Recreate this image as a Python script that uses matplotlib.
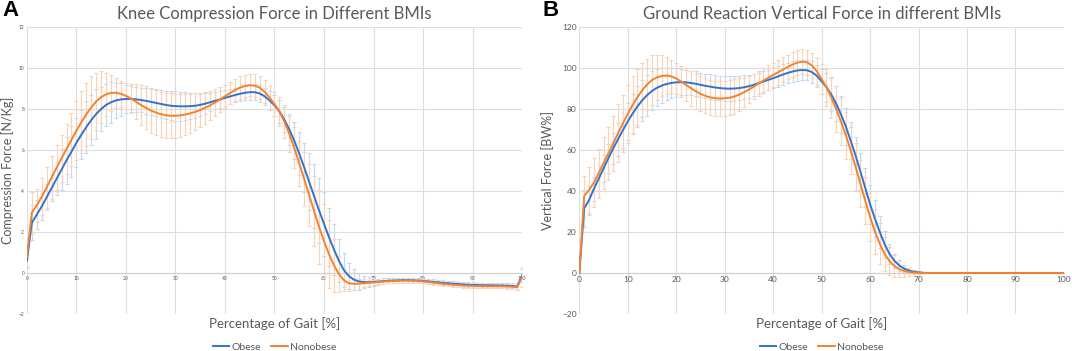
import numpy as np
import matplotlib
matplotlib.use('Agg')
import matplotlib.pyplot as plt

# gait cycle, one sample per percent
gait = list(range(0, 101))

# panel A: knee compression force [N/Kg]
knee_obese = [0.6, 2.45, 2.85, 3.25, 3.7, 4.15, 4.6, 5.05, 5.5, 5.92,
              6.35, 6.75, 7.12, 7.46, 7.76, 8.0, 8.2, 8.33, 8.42, 8.47,
              8.49, 8.49, 8.47, 8.44, 8.4, 8.35, 8.3, 8.25, 8.2, 8.16,
              8.14, 8.13, 8.13, 8.14, 8.16, 8.2, 8.26, 8.33, 8.4, 8.47,
              8.54, 8.61, 8.68, 8.74, 8.79, 8.82, 8.82, 8.76, 8.62, 8.42,
              8.18, 7.88, 7.48, 7.0, 6.45, 5.82, 5.15, 4.45, 3.75, 3.05,
              2.4, 1.75, 1.15, 0.6, 0.15, -0.15, -0.32, -0.41, -0.44, -0.45,
              -0.44, -0.42, -0.4, -0.38, -0.37, -0.36, -0.35, -0.35, -0.36, -0.37,
              -0.39, -0.41, -0.43, -0.46, -0.48, -0.5, -0.52, -0.54, -0.56, -0.57,
              -0.58, -0.59, -0.6, -0.6, -0.6, -0.61, -0.61, -0.62, -0.63, -0.66,
              -0.12]
knee_obese_sd = [0.35, 0.85, 0.7, 0.65, 0.65, 0.65, 0.8, 1.0, 1.15, 1.25,
                 1.2, 1.2, 1.25, 1.23, 1.2, 1.07, 1.03, 1.0, 0.85, 0.8,
                 0.67, 0.62, 0.6, 0.6, 0.62, 0.64, 0.66, 0.68, 0.7, 0.72,
                 0.72, 0.7, 0.68, 0.65, 0.6, 0.55, 0.5, 0.45, 0.42, 0.4,
                 0.38, 0.36, 0.35, 0.35, 0.35, 0.36, 0.38, 0.4, 0.42, 0.45,
                 0.5, 0.55, 0.6, 0.75, 0.9, 1.05, 1.2, 1.4, 1.55, 1.6,
                 1.55, 1.4, 1.25, 1.05, 0.85, 0.65, 0.5, 0.4, 0.3, 0.25,
                 0.2, 0.15, 0.14, 0.13, 0.12, 0.12, 0.12, 0.12, 0.12, 0.12,
                 0.12, 0.12, 0.12, 0.12, 0.12, 0.12, 0.12, 0.12, 0.12, 0.12,
                 0.12, 0.12, 0.12, 0.12, 0.12, 0.12, 0.12, 0.12, 0.12, 0.15,
                 0.3]
knee_nonobese = [0.8, 2.95, 3.3, 3.72, 4.18, 4.66, 5.14, 5.6, 6.05, 6.5,
                 6.94, 7.36, 7.74, 8.08, 8.37, 8.58, 8.72, 8.79, 8.79, 8.74,
                 8.64, 8.51, 8.36, 8.2, 8.06, 7.93, 7.83, 7.75, 7.7, 7.67,
                 7.67, 7.69, 7.73, 7.79, 7.86, 7.95, 8.06, 8.18, 8.32, 8.47,
                 8.62, 8.77, 8.92, 9.04, 9.12, 9.16, 9.14, 9.04, 8.84, 8.56,
                 8.24, 7.87, 7.38, 6.78, 6.1, 5.35, 4.58, 3.8, 3.02, 2.25,
                 1.55, 0.92, 0.38, -0.05, -0.35, -0.5, -0.53, -0.52, -0.5, -0.48,
                 -0.46, -0.44, -0.42, -0.4, -0.39, -0.38, -0.37, -0.37, -0.38, -0.39,
                 -0.41, -0.44, -0.47, -0.5, -0.53, -0.55, -0.57, -0.59, -0.61, -0.62,
                 -0.63, -0.64, -0.65, -0.65, -0.65, -0.65, -0.65, -0.66, -0.67, -0.7,
                 -0.2]
knee_nonobese_sd = [0.5, 1.0, 0.8, 0.9, 1.0, 1.05, 1.1, 1.15, 1.2, 1.3,
                    1.44, 1.5, 1.53, 1.52, 1.39, 1.26, 1.04, 0.88, 0.72, 0.62,
                    0.62, 0.7, 0.85, 0.98, 1.05, 1.08, 1.1, 1.1, 1.1, 1.1,
                    1.08, 1.05, 1.0, 0.95, 0.9, 0.85, 0.78, 0.7, 0.64, 0.6,
                    0.56, 0.55, 0.55, 0.55, 0.55, 0.55, 0.55, 0.55, 0.55, 0.58,
                    0.6, 0.7, 0.8, 0.9, 1.0, 1.1, 1.3, 1.5, 1.7, 1.8,
                    1.8, 1.65, 1.3, 0.9, 0.55, 0.4, 0.3, 0.25, 0.2, 0.15,
                    0.12, 0.1, 0.1, 0.1, 0.1, 0.1, 0.1, 0.1, 0.1, 0.1,
                    0.1, 0.1, 0.1, 0.1, 0.1, 0.1, 0.1, 0.1, 0.1, 0.1,
                    0.1, 0.1, 0.1, 0.1, 0.1, 0.1, 0.1, 0.1, 0.1, 0.12,
                    0.5]

# panel B: vertical ground reaction force [BW%]
grf_obese = [0, 31.5, 35.5, 41, 46, 51, 56, 60.8, 65.3, 69.7,
             74, 77.8, 81.3, 84.3, 86.8, 88.8, 90.3, 91.4, 92.2, 92.7,
             93.0, 93.1, 93.0, 92.7, 92.3, 91.8, 91.3, 90.9, 90.5, 90.2,
             90.0, 89.9, 90.0, 90.2, 90.6, 91.1, 91.8, 92.6, 93.4, 94.2,
             95.0, 95.9, 96.8, 97.6, 98.3, 98.8, 99.0, 98.9, 98.0, 96.2,
             93.5, 90.6, 87, 82.6, 77.3, 71.4, 64.5, 57.3, 49.5, 41.5,
             33.5, 26.5, 20, 14, 9.3, 6, 3.7, 2.2, 1.2, 0.6,
             0.3, 0.1, 0, 0, 0, 0, 0, 0, 0, 0,
             0, 0, 0, 0, 0, 0, 0, 0, 0, 0,
             0, 0, 0, 0, 0, 0, 0, 0, 0, 0,
             0]
grf_obese_sd = [0, 9, 7, 6, 6, 6.5, 7, 7.5, 8, 8.5,
                9, 9.5, 10, 10, 10, 9.5, 9, 8.5, 8, 7.5,
                7, 6.5, 6.2, 6, 6, 6, 6, 6, 6, 6,
                6, 6, 6, 6, 5.8, 5.6, 5.4, 5.2, 5, 5,
                5, 5, 5, 5, 5, 5, 5, 5, 5.2, 5.5,
                6, 7, 8, 8.5, 9, 9, 9, 9, 9, 9.5,
                9.5, 9, 8, 6.5, 5, 3.5, 2.5, 1.8, 1.2, 0.8,
                0.5, 0.2, 0, 0, 0, 0, 0, 0, 0, 0,
                0, 0, 0, 0, 0, 0, 0, 0, 0, 0,
                0, 0, 0, 0, 0, 0, 0, 0, 0, 0,
                0]
grf_nonobese = [0, 37.5, 40.5, 44, 48.7, 53.6, 58.4, 63.3, 68.2, 73,
                77.6, 82, 85.8, 89.2, 92, 94.1, 95.4, 96.1, 96.3, 95.9,
                94.9, 93.4, 91.8, 90.2, 88.7, 87.4, 86.4, 85.7, 85.3, 85.1,
                85.2, 85.5, 86.1, 87.0, 88.2, 89.5, 90.9, 92.4, 93.9, 95.3,
                96.6, 97.9, 99.2, 100.5, 101.7, 102.6, 103.1, 102.8, 101.2, 98.4,
                94.6, 90.6, 85.6, 80, 73.8, 67.2, 59.8, 51.9, 43.5, 35.2,
                27.3, 20.2, 14.2, 9.3, 5.8, 3.4, 1.9, 1.0, 0.5, 0.2,
                0.1, 0, 0, 0, 0, 0, 0, 0, 0, 0,
                0, 0, 0, 0, 0, 0, 0, 0, 0, 0,
                0, 0, 0, 0, 0, 0, 0, 0, 0, 0,
                0]
grf_nonobese_sd = [0, 10, 11, 12, 12, 12.5, 13, 13.5, 14, 14,
                   14, 14, 13.5, 13, 12.5, 12, 11, 10, 9, 8,
                   7.5, 7.5, 8, 8.5, 8.5, 8.5, 8.5, 8.5, 8.5, 8.5,
                   8.5, 8.5, 8.5, 8, 7, 6.5, 6, 6, 6, 6,
                   6, 6, 6, 6, 6, 6, 6, 6, 6, 6.5,
                   7.5, 9, 10, 11, 11.5, 11.5, 11.5, 11.5, 11.5, 11.5,
                   11.5, 11, 10, 8.5, 7, 5.5, 4, 3, 2, 1.2,
                   0.6, 0, 0, 0, 0, 0, 0, 0, 0, 0,
                   0, 0, 0, 0, 0, 0, 0, 0, 0, 0,
                   0, 0, 0, 0, 0, 0, 0, 0, 0, 0,
                   0]

blue = '#2E75D0'
orange = '#F5822E'
grey_txt = '#595959'
grid_col = '#dedede'

plt.rcParams['font.family'] = ['Lato', 'DejaVu Sans']

fig = plt.figure(figsize=(10.72, 3.51), dpi=100)


def panel(rect, obese, obese_sd, nonobese, nonobese_sd, ylim, ystep,
          title, ylabel, letter, letter_x, tick_size, ylab_x):
    ax = fig.add_axes(rect)
    ax.errorbar(gait, obese, yerr=obese_sd, fmt='none', ecolor='#c3d8f1',
                elinewidth=0.8, capsize=1.3, capthick=0.8, zorder=2)
    ax.errorbar(gait, nonobese, yerr=nonobese_sd, fmt='none', ecolor='#fbd2b3',
                elinewidth=0.8, capsize=1.3, capthick=0.8, zorder=2)
    ax.plot(gait, obese, color=blue, lw=1.4, label='Obese', zorder=3)
    ax.plot(gait, nonobese, color=orange, lw=1.4, label='Nonobese', zorder=4)

    ax.set_xlim(0, 100)
    ax.set_ylim(*ylim)
    ax.set_xticks(np.arange(0, 101, 10))
    ax.set_yticks(np.arange(ylim[0], ylim[1] + ystep / 2, ystep))
    ax.grid(True, color=grid_col, lw=0.8)
    ax.set_axisbelow(True)
    for s in ['top', 'right', 'left']:
        ax.spines[s].set_visible(False)
    ax.spines['bottom'].set_position(('data', 0))
    ax.spines['bottom'].set_color('#cfcfcf')
    ax.tick_params(length=0, labelsize=tick_size, labelcolor=grey_txt, pad=2)

    ax.set_title(title, fontsize=12, color=grey_txt, pad=6)
    fig.text(ylab_x, rect[1] + rect[3] / 2, ylabel, rotation=90, fontsize=9,
             color=grey_txt, ha='center', va='center')
    fig.text(rect[0] + rect[2] / 2, 1 - 324 / 351, 'Percentage of Gait [%]',
             fontsize=9.5, color=grey_txt, ha='center', va='center')
    fig.text(letter_x, 1 - 11 / 351, letter, fontsize=16, fontweight='bold',
             family='Liberation Sans', ha='left', va='center')
    ax.legend(loc='center', bbox_to_anchor=(0.5, -0.115), ncol=2, frameon=False,
              fontsize=7.5, handlelength=1.6, handletextpad=0.2,
              columnspacing=1.0, labelcolor=grey_txt)
    return ax


panel([0.0251, 0.1054, 0.4619, 0.8177], knee_obese, knee_obese_sd,
      knee_nonobese, knee_nonobese_sd, (-2, 12), 2,
      'Knee Compression Force in Different BMIs', 'Compression Force [N/Kg]',
      'A', 0.002, 3.5, 8 / 1072)
panel([0.5404, 0.1054, 0.4521, 0.8177], grf_obese, grf_obese_sd,
      grf_nonobese, grf_nonobese_sd, (-20, 120), 20,
      'Ground Reaction Vertical Force in different BMIs', 'Vertical Force [BW%]',
      'B', 0.506, 6, 548 / 1072)

fig.savefig('out.png', dpi=100)
